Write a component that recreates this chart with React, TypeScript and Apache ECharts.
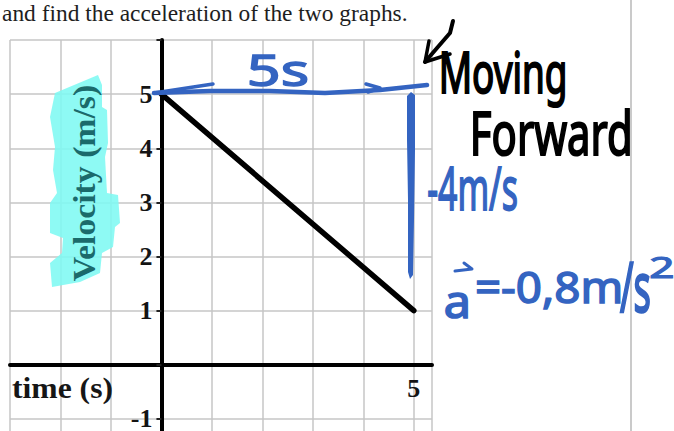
import React, { useEffect, useRef } from 'react';
import * as echarts from 'echarts';

// Velocity-time line: v(t) from 5 m/s at t=0 down to 1 m/s at t=5 s
const times = [0, 5];
const velocities = [5, 1];

// Tick labels printed on the worksheet axes
const velocityTickLabels = ['5', '4', '3', '2', '1', '-1'];
const timeTickLabels = ['5'];

// Printed texts
const headline = 'and find the acceleration of the two graphs.';
const timeAxisTitle = 'time (s)';
const velocityAxisTitle = 'Velocity (m/s)';

// Handwritten notes
const noteInterval = '5s';
const noteDeltaV = '-4m/s';
const noteAccelSymbol = 'a';
const noteAccelValue = '=-0,8m';
const noteAccelUnit = '/s';
const noteAccelPower = '2';
const noteMoving = 'Moving';
const noteForward = 'Forward';

const SERIF = '"Liberation Serif", "Times New Roman", serif';
const HAND = '"Noto Sans", sans-serif';
const INK_BLUE = '#3464c1';

// Plot frame: t from -3 to 5.36 s, v from -2 to 6 m/s
const GRID = { left: 10, top: 40, width: 422, height: 433 };
const T_MIN = -3;
const T_MAX = 5.36;
const V_MIN = -2;
const V_MAX = 6;

type Box = [number, number, number, number]; // left, top, right, bottom

const ctx = typeof document !== 'undefined' ? document.createElement('canvas').getContext('2d') : null;

function metrics(text: string, font: string) {
  ctx!.font = font;
  return ctx!.measureText(text);
}

// Text element whose ink is stretched into the given box; pen > 0 thickens the strokes
function inkText(
  text: string,
  family: string,
  weight: string,
  size: number,
  box: Box,
  fill: string,
  uniform = false,
  pen = 0,
  z = 100
) {
  const font = `${weight} ${size}px ${family}`;
  const m = metrics(text, font);
  const inkW = m.actualBoundingBoxLeft + m.actualBoundingBoxRight;
  const inkH = m.actualBoundingBoxAscent + m.actualBoundingBoxDescent;
  const sx = (box[2] - box[0]) / inkW;
  const sy = uniform ? sx : (box[3] - box[1]) / inkH;
  const central = (m.fontBoundingBoxAscent - m.fontBoundingBoxDescent) / 2;
  const style: any = { text, font, fill, align: 'left', verticalAlign: 'middle' };
  if (pen > 0) {
    style.stroke = fill;
    style.lineWidth = pen;
    style.lineJoin = 'round';
  }
  return {
    type: 'text',
    z,
    x: box[0] + sx * m.actualBoundingBoxLeft,
    y: box[1] + sy * m.actualBoundingBoxAscent - sy * central,
    scaleX: sx,
    scaleY: sy,
    style,
  };
}

// Rotated (bottom-to-top) text fitted to a centre, length and thickness
function rotatedText(
  text: string,
  family: string,
  weight: string,
  size: number,
  cx: number,
  cy: number,
  length: number,
  thickness: number,
  fill: string,
  z = 60
) {
  const font = `${weight} ${size}px ${family}`;
  const m = metrics(text, font);
  const inkW = m.actualBoundingBoxLeft + m.actualBoundingBoxRight;
  const inkH = m.actualBoundingBoxAscent + m.actualBoundingBoxDescent;
  const sx = length / inkW;
  const sy = thickness / inkH;
  const central = (m.fontBoundingBoxAscent - m.fontBoundingBoxDescent) / 2;
  const inkOffset = central - (m.actualBoundingBoxAscent - m.actualBoundingBoxDescent) / 2;
  return {
    type: 'text',
    z,
    x: cx - sy * inkOffset,
    y: cy,
    rotation: Math.PI / 2,
    scaleX: sx,
    scaleY: sy,
    style: { text, font, fill, align: 'center', verticalAlign: 'middle' },
  };
}

function stroke(points: number[][], color: string, width: number, z = 100) {
  return {
    type: 'polyline',
    z,
    shape: { points },
    style: { stroke: color, lineWidth: width, fill: null, lineCap: 'round', lineJoin: 'round' },
  };
}

export default function App() {
  const ref = useRef<HTMLDivElement>(null);

  useEffect(() => {
    document.body.style.margin = '0';
    const chart = echarts.init(ref.current!, null, { renderer: 'svg' });

    const gridColor = '#c6c6c6';
    const labelFont = { fontFamily: SERIF, fontWeight: 'bold' as const, fontSize: 26, color: '#141414' };

    // Pixel offsets that move each axis onto the other axis' zero
    const zeroX = GRID.left + ((0 - T_MIN) / (T_MAX - T_MIN)) * GRID.width;
    const zeroY = GRID.top + ((V_MAX - 0) / (V_MAX - V_MIN)) * GRID.height;
    const yAxisOffset = -(zeroX - GRID.left);
    const xAxisOffset = -(GRID.top + GRID.height - zeroY);

    const option = {
      animation: false,
      backgroundColor: '#ffffff',
      grid: { ...GRID, containLabel: false, outerBoundsMode: 'none' },
      xAxis: {
        type: 'value',
        min: T_MIN,
        max: T_MAX,
        interval: 1,
        position: 'bottom',
        offset: xAxisOffset,
        axisLine: { onZero: false, lineStyle: { color: '#000', width: 4 } },
        axisTick: { show: false },
        splitLine: { show: true, lineStyle: { color: gridColor, width: 1.5 } },
        axisLabel: {
          ...labelFont,
          margin: 11,
          showMaxLabel: false,
          formatter: (v: number) => (timeTickLabels.includes(String(v)) ? String(v) : ''),
        },
      },
      yAxis: {
        type: 'value',
        min: V_MIN,
        max: V_MAX,
        interval: 1,
        position: 'left',
        offset: yAxisOffset,
        axisLine: { onZero: false, lineStyle: { color: '#000', width: 4 } },
        axisTick: { show: true, length: 5, lineStyle: { color: '#222', width: 2 } },
        splitLine: { show: true, lineStyle: { color: gridColor, width: 1.5 } },
        axisLabel: {
          ...labelFont,
          margin: 9,
          padding: [7, 0, 0, 0],
          formatter: (v: number) => (velocityTickLabels.includes(String(v)) ? String(v) : ''),
        },
      },
      series: [
        {
          type: 'line',
          data: times.map((t, i) => [t, velocities[i]]),
          symbol: 'none',
          z: 5,
          lineStyle: { color: '#000', width: 5.5, cap: 'round' },
        },
      ],
      graphic: [
        // page edge on the right
        { type: 'line', z: 1, shape: { x1: 631, y1: 0, x2: 631, y2: 431 }, style: { stroke: '#cacaca', lineWidth: 2 } },
        // printed heading and axis titles
        inkText(headline, SERIF, 'normal', 24, [2, 5, 407, 30], '#1e1e1e', true),
        inkText(timeAxisTitle, SERIF, 'bold', 30, [12, 378, 112, 405], '#161616'),
        // highlighter stroke behind the velocity title
        {
          type: 'polygon',
          z: 50,
          shape: {
            points: [
              [55, 93], [98, 75], [102, 85], [102, 107], [107, 110], [108, 143], [105, 157], [107, 193],
              [118, 195], [120, 223], [115, 227], [113, 247], [102, 253], [100, 273], [80, 282], [52, 287],
              [50, 263], [62, 253], [63, 238], [50, 233], [50, 203], [57, 193], [53, 170], [55, 147], [50, 117],
            ],
          },
          style: { fill: '#7ef9f2', opacity: 0.88 },
        },
        rotatedText(velocityAxisTitle, SERIF, 'bold', 28, 87.5, 183, 196, 29, '#1b6a6b'),
        // "5s" double arrow along the top
        stroke([[154, 93], [210, 91], [270, 91], [325, 93], [380, 90], [427, 85]], INK_BLUE, 4.5),
        stroke([[154, 93], [213, 84]], INK_BLUE, 3.5),
        stroke([[366, 84], [380, 88], [368, 92]], INK_BLUE, 3.5),
        inkText(noteInterval, HAND, 'normal', 36, [250, 53, 307, 85], INK_BLUE, false, 1.2),
        // change in velocity bar
        {
          type: 'polygon',
          z: 100,
          shape: { points: [[407, 96], [411, 92], [415, 95], [415, 150], [414, 220], [413, 275], [410, 279], [408, 272], [408, 200], [407, 140]] },
          style: { fill: INK_BLUE },
        },
        inkText(noteDeltaV, HAND, 'normal', 40, [428, 167, 517, 210], INK_BLUE, false, 1.2),
        // acceleration result
        inkText(noteAccelSymbol, HAND, 'normal', 40, [445, 293, 468, 318], INK_BLUE, false, 1.5),
        stroke([[455, 271], [472, 269], [464, 263]], INK_BLUE, 3),
        inkText(noteAccelValue, HAND, 'normal', 44, [477, 272, 620, 309], INK_BLUE, false, 1.5),
        inkText(noteAccelUnit, HAND, 'normal', 44, [620, 263, 650, 312], INK_BLUE, false, 1.5),
        inkText(noteAccelPower, HAND, 'normal', 24, [651, 257, 673, 278], INK_BLUE, false, 1),
        // black note with its pointer
        stroke([[453, 21], [450, 33], [437, 48], [425, 62]], '#000', 4),
        stroke([[429, 41], [425, 62], [450, 54]], '#000', 3.5),
        inkText(noteMoving, HAND, 'normal', 44, [442, 50, 565, 107], '#000', false, 1.6),
        inkText(noteForward, HAND, 'normal', 40, [473, 110, 630, 155], '#000', false, 1.4),
      ],
    };

    chart.setOption(option as any);
    return () => chart.dispose();
  }, []);

  return (
    <div
      ref={ref}
      style={{ position: 'fixed', left: 0, top: 0, width: 674, height: 431, background: '#fff' }}
    />
  );
}
